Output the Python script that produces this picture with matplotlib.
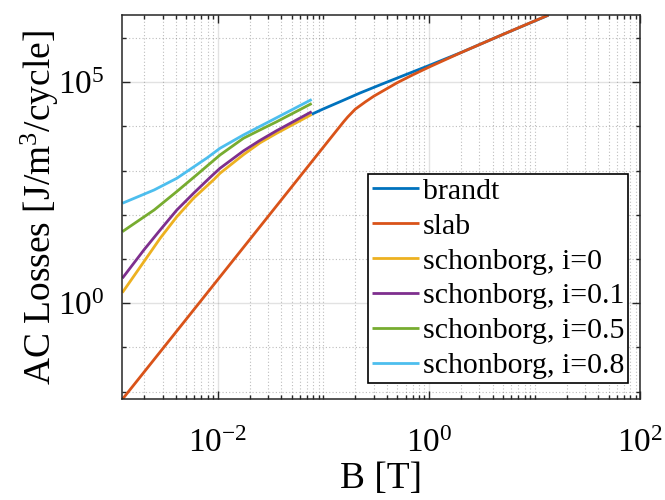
import numpy as np
import matplotlib
matplotlib.use("Agg")
import matplotlib.pyplot as plt
from matplotlib.ticker import FixedLocator, FuncFormatter, NullFormatter

# values (B in T, losses in J/m^3/cycle)
brandt_b = [0.0774, 0.1, 0.15, 0.221, 0.35, 0.53, 1.0, 2.0, 5.0, 13.5]
brandt_q = [1.89e4, 2.5e4, 3.8e4, 5.7e4, 8.9e4, 1.32e5, 2.4e5, 4.7e5, 1.21e6, 3.3e6]

slab_b = [0.00125, 0.01, 0.1, 0.12, 0.155, 0.17, 0.2, 0.25, 0.3, 0.5, 0.7, 1.0, 2.0, 5.0, 13.5]
slab_q = [6.7e-3, 3.42, 3420, 5910, 1.27e4, 1.645e4, 2.46e4, 3.62e4, 4.85e4, 9.8e4,
          1.47e5, 2.21e5, 4.68e5, 1.21e6, 3.33e6]

sch0_b = [0.00125, 0.002, 0.00285, 0.0041, 0.0059, 0.0091, 0.0105, 0.0175, 0.025, 0.0361, 0.0774]
sch0_q = [1.74, 8.73, 29.6, 91, 238, 617, 873, 2300, 4236, 7020, 1.87e4]

sch01_b = [0.00125, 0.002, 0.00285, 0.0041, 0.0059, 0.00845, 0.0105, 0.0175, 0.025, 0.0361, 0.0774]
sch01_q = [3.68, 16.1, 45.5, 129, 308, 702, 1133, 2800, 4820, 8040, 2.16e4]

sch05_b = [0.00125, 0.0025, 0.0041, 0.0063, 0.0105, 0.0175, 0.025, 0.0361, 0.0774]
sch05_q = [41.7, 129, 338, 800, 2265, 5410, 8300, 1.28e4, 3.31e4]

sch08_b = [0.00125, 0.0025, 0.0041, 0.0079, 0.0105, 0.0175, 0.0361, 0.0774]
sch08_q = [183, 366, 673, 1937, 3213, 6430, 1.58e4, 4.08e4]

labels = ["brandt", "slab", "schonborg, i=0", "schonborg, i=0.1",
          "schonborg, i=0.5", "schonborg, i=0.8"]
colors = ["#0072BD", "#D95319", "#EDB120", "#7E2F8E", "#77AC30", "#4DBEEE"]

x_lim = (0.00125, 100)
y_lim = (6.7e-3, 3.33e6)
x_major = [1e-2, 1e0, 1e2]
y_major = [1e0, 1e5]

plt.rcParams["font.family"] = ["Liberation Serif", "DejaVu Serif"]
plt.rcParams["mathtext.fontset"] = "custom"
plt.rcParams["mathtext.rm"] = "Liberation Serif"
plt.rcParams["mathtext.it"] = "Liberation Serif:italic"


def pow_label(v, pos):
    return r"$\mathregular{10^{%d}}$" % int(round(np.log10(v)))


def setup_axes(ax):
    ax.set_xscale("log")
    ax.set_yscale("log")
    ax.set_xlim(*x_lim)
    ax.set_ylim(*y_lim)

    x_minor = [k * 10.0 ** d for d in range(-3, 2) for k in range(1, 10)]
    x_minor = [v for v in x_minor if v not in x_major]
    y_minor = [10.0 ** d for d in range(-2, 7) if d not in (0, 5)]
    ax.xaxis.set_major_locator(FixedLocator(x_major))
    ax.xaxis.set_minor_locator(FixedLocator(x_minor))
    ax.yaxis.set_major_locator(FixedLocator(y_major))
    ax.yaxis.set_minor_locator(FixedLocator(y_minor))
    ax.xaxis.set_major_formatter(FuncFormatter(pow_label))
    ax.yaxis.set_major_formatter(FuncFormatter(pow_label))
    ax.xaxis.set_minor_formatter(NullFormatter())
    ax.yaxis.set_minor_formatter(NullFormatter())

    dark = (0.15, 0.15, 0.15)
    ax.tick_params(which="both", direction="in", top=True, right=True,
                   color=dark, labelsize=24, width=1.0)
    ax.tick_params(which="major", length=6)
    ax.tick_params(which="minor", length=3)
    ax.tick_params(axis="x", which="major", pad=21)
    ax.tick_params(axis="y", which="major", pad=13)
    for s in ax.spines.values():
        s.set_color(dark)
        s.set_linewidth(1.1)

    ax.grid(which="major", color=dark, alpha=0.13, lw=1.0, ls="-")
    ax.grid(which="minor", color=dark, alpha=0.3, lw=0.8, ls=(0, (1, 2)))
    ax.set_axisbelow(True)


def main():
    fig = plt.figure(figsize=(6.65, 5.0), dpi=100)
    ax = fig.add_axes([0.184, 0.2014, 0.779, 0.7686])
    setup_axes(ax)

    series = [(brandt_b, brandt_q), (slab_b, slab_q), (sch0_b, sch0_q),
              (sch01_b, sch01_q), (sch05_b, sch05_q), (sch08_b, sch08_q)]
    for (b, q), lab, c in zip(series, labels, colors):
        ax.plot(b, q, color=c, lw=2.0, label=lab, solid_capstyle="butt")

    ax.set_xlabel("B [T]", fontsize=27, labelpad=2)
    ax.set_ylabel(r"AC Losses [J/m$^3$/cycle]", fontsize=27, labelpad=-2)

    leg = ax.legend(loc="lower right", bbox_to_anchor=(0.976, 0.0424),
                    borderaxespad=0, fontsize=21.5, frameon=True, fancybox=False,
                    handlelength=1.6, handletextpad=0.12, labelspacing=0.27,
                    borderpad=0.12)
    leg.get_frame().set_edgecolor("black")
    leg.get_frame().set_linewidth(1.2)
    leg.get_frame().set_alpha(1.0)

    fig.savefig("out.png", dpi=100)
    plt.close(fig)


if __name__ == "__main__":
    main()
